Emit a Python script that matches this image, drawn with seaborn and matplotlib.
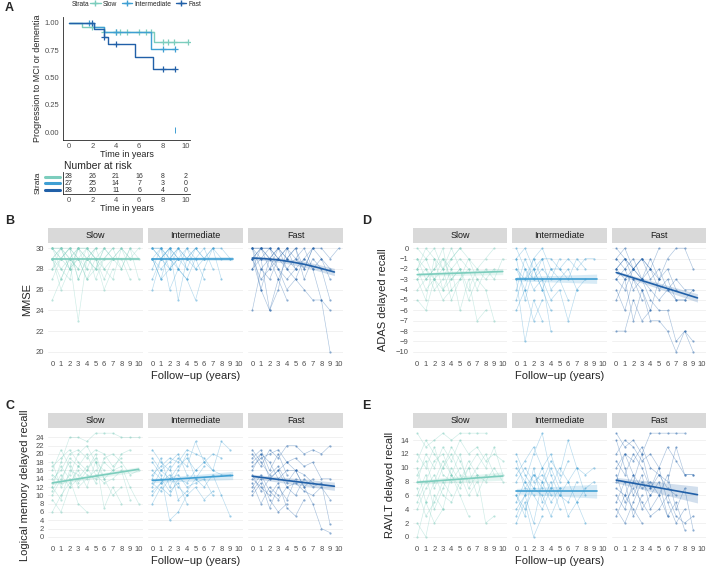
import pandas as pd
import seaborn as sns
import matplotlib.pyplot as plt
from matplotlib.lines import Line2D

sns.set_style("white")
plt.rcParams["font.family"] = ["Liberation Sans", "DejaVu Sans"]

W, H = 709, 569
groups = ["Slow", "Intermediate", "Fast"]
colors = {"Slow": "#7ccdbd", "Intermediate": "#3f9fd3", "Fast": "#2160a8"}

# --- panel A: Kaplan-Meier ---
km_time = {"Slow": [0, 1.1, 3.0, 7.3, 10.2],
           "Intermediate": [0, 2.1, 3.0, 7.0, 9.1],
           "Fast": [0, 2.15, 3.0, 3.3, 5.6, 7.2, 9.1]}
km_surv = {"Slow": [1.0, 0.964, 0.92, 0.83, 0.83],
           "Intermediate": [1.0, 0.96, 0.915, 0.76, 0.76],
           "Fast": [1.0, 0.942, 0.875, 0.81, 0.69, 0.575, 0.575]}
cens_time = {"Slow": [2.0, 3.0, 4.0, 4.4, 5.0, 6.0, 6.6, 7.0, 8.0, 8.5, 9.0, 10.2],
             "Intermediate": [1.7, 4.0, 8.0, 9.1],
             "Fast": [2.0, 3.0, 4.0, 8.0, 9.1]}
cens_surv = {"Slow": [0.964, 0.92, 0.92, 0.92, 0.92, 0.92, 0.92, 0.92, 0.83, 0.83, 0.83, 0.83],
             "Intermediate": [1.0, 0.915, 0.76, 0.76],
             "Fast": [1.0, 0.875, 0.81, 0.575, 0.575]}
odd_mark = (9.1, 0.02)

risk_times = [0, 2, 4, 6, 8, 10]
risk_counts = {"Slow": [28, 26, 21, 16, 8, 2],
               "Intermediate": [27, 25, 14, 7, 3, 0],
               "Fast": [28, 20, 11, 6, 4, 0]}

# --- individual trajectories, "year:value" ---
mmse = {
    "Slow": ["0:30 1:29 2:30 3:29 4:30 5:29 6:30 7:29 8:30 9:29",
             "0:29 1:30 2:28 3:30 4:29 5:30",
             "0:28 1:29 2:30 3:27 4:29 5:28 6:30",
             "0:30 1:28 2:29 3:23 4:29 5:30",
             "0:25 1:27 2:29 3:30 4:28",
             "0:29 1:26 2:28 3:29 4:27 5:29 6:26 7:28",
             "0:30 1:30 2:29 3:28 4:30 5:27 6:29 7:30 8:28 9:30 10:27",
             "0:27 1:29 2:30 3:29 4:28 5:30 6:28 7:27 8:30 9:28",
             "0:29 1:28 2:27 3:30 4:30 5:29 6:27 7:29 8:29 9:27",
             "0:30 1:29 2:28 3:29 4:27 5:28 6:30 7:29 8:28 9:30 10:29",
             "0:28 1:30 2:30 3:27 4:29",
             "0:29 1:27 2:29 3:28",
             "0:30 1:30 2:28 3:30 4:29 5:28 6:29 7:30",
             "0:29 1:30 2:29 3:30 4:30 5:29 6:28 7:29 8:30 9:29 10:30"],
    "Intermediate": ["0:30 1:29 2:30 3:29 4:30 5:28 6:29 7:30 8:29 9:29",
                     "0:29 1:27 2:28 3:30 4:28",
                     "0:26 1:29 2:30 3:25 4:29 5:28",
                     "0:30 1:30 2:26 3:28 4:27 5:25 6:28 7:30 8:27",
                     "0:29 1:28 2:29 3:30 4:29 5:30 6:29",
                     "0:28 1:30 2:29 3:28 4:30 5:29 6:30 7:28",
                     "0:30 1:29 2:28 3:29 4:28 5:30",
                     "0:29 1:27 2:30 3:29",
                     "0:30 1:30 2:29 3:30 4:29 5:30 6:29 7:30 8:30 9:29",
                     "0:27 1:29 2:30 3:28 4:27 5:29 6:27",
                     "0:29 1:30 2:28 3:29"],
    "Fast": ["0:30 1:30 2:29 3:30 4:29 5:30 6:28 7:30 8:29 9:28",
             "0:29 1:30 2:28 3:29 4:28 5:27 6:29 7:28 8:25 9:20",
             "0:24 1:28 2:27 3:29",
             "0:30 1:26 2:24 3:27 4:25",
             "0:29 1:30 2:30 3:28 4:26 5:27 6:26 7:25 8:25 9:24",
             "0:28 1:29 2:24 3:26 4:30 5:28",
             "0:30 1:29 2:30 3:29 4:30 5:29 6:30 7:28 8:29 9:27",
             "0:29 1:27 2:28 3:30 4:28 5:29 6:28 7:30",
             "0:30 1:28 2:29 3:27 4:29 5:30 6:27 7:29 8:28 9:25",
             "0:28 1:30 2:30 3:29 4:30",
             "0:29 1:26 2:29 3:28 4:27 5:28",
             "0:30 1:30 2:29 3:30 4:29 5:28 6:29 7:30 8:30 9:29 10:30"],
}
logmem = {
    "Slow": ["0:12 1:18 2:24 3:24 4:23 5:25 6:25 7:25 8:24 9:24 10:24",
             "0:14 1:16 2:20 3:21 4:19 5:21 6:20 7:17 8:19",
             "0:9 1:6 2:12 3:17 4:15 5:14 6:18 7:16 8:20 9:21",
             "0:16 1:21 2:17 3:12 4:14 5:16",
             "0:10 1:14 2:18 3:13 4:16 5:20 6:14 7:10 8:12",
             "0:18 1:12 2:15 3:20 4:22 5:18 6:16",
             "0:13 1:17 2:14 3:8 4:6",
             "0:6 1:10 2:13 3:16 4:12 5:18 6:14 7:16 8:17 9:12 10:8",
             "0:15 1:13 2:19 3:17 4:20 5:15 6:13 7:14 8:16 9:9",
             "0:11 1:15 2:12 3:14 4:17 5:13 6:19 7:20 8:18 9:15 10:16",
             "0:17 1:19 2:21 3:18 4:16 5:19 6:7 7:12 8:8",
             "0:12 1:9 2:16 3:15"],
    "Intermediate": ["0:21 1:18 2:16 3:19 4:17 5:23 6:18 7:16 8:23 9:21",
                     "0:14 1:19 2:12 3:16 4:20 5:14 6:17",
                     "0:10 1:13 2:17 3:9 4:11 5:14 6:12 7:15 8:10 9:5",
                     "0:16 1:14 2:11 3:13 4:8",
                     "0:12 1:16 2:14 3:17 4:19 5:16 6:18 7:20 8:19",
                     "0:18 1:15 2:4 3:6 4:10",
                     "0:13 1:11 2:14 3:15 4:12 5:13 6:14 7:10",
                     "0:8 1:12 2:10 3:14 4:13 5:16",
                     "0:15 1:17 2:19 3:18 4:21 5:20 6:19 7:16 8:15 9:15",
                     "0:11 1:13 2:15 3:12 4:10 5:12 6:9 7:11",
                     "0:19 1:16 2:18 3:20 4:15"],
    "Fast": ["0:20 1:17 2:21 3:19 4:22 5:22 6:20 7:21 8:20 9:22",
             "0:16 1:20 2:18 3:14 4:16 5:16 6:12 7:8 8:2 9:1",
             "0:14 1:12 2:10 3:13 4:7 5:5 6:9",
             "0:18 1:20 2:14 3:16 4:18 5:16 6:12 7:14",
             "0:12 1:15 2:11 3:9 4:12 5:10 6:14 7:12 8:13 9:3",
             "0:19 1:21 2:16 3:20 4:15",
             "0:10 1:13 2:7 3:12 4:9 5:14",
             "0:15 1:11 2:14 3:16 4:12 5:13 6:11 7:10 8:12 9:9",
             "0:17 1:19 2:20 3:21 4:18 5:19 6:17 7:18 8:14 9:14",
             "0:13 1:8 2:12 3:10",
             "0:21 1:18 2:15 3:17 4:13 5:16 6:15 7:13",
             "0:11 1:14 2:9 3:6 4:8"],
}
adas = {
    "Slow": ["0:0 1:-1 2:0 3:-2 4:-1 5:0 6:-1 7:-2 8:-1 9:0",
             "0:-2 1:-4 2:-3 3:-1 4:-3 5:-2",
             "0:-3 1:-5 2:-1 3:-4 4:-2 5:-6 6:-3 7:-7 8:-6",
             "0:-1 1:-2 2:-4 3:-3 4:-1 5:0",
             "0:-4 1:-3 2:-2 3:0 4:-4 5:-3 6:-2 7:-4 8:-2 9:-3 10:-1",
             "0:-5 1:-6 2:-3 3:-5 4:-4",
             "0:-2 1:0 2:-1 3:-2 4:-5 5:-3 6:-1 7:-3",
             "0:-3 1:-2 2:-3 3:-4 4:-3 5:-2 6:-5 7:-3 8:-4 9:-7",
             "0:-1 1:-3 2:-2 3:-1 4:-2 5:-1 6:-2",
             "0:-2 1:-1 2:-3 3:-2 4:0 5:-2 6:-4 7:-2 8:-3 9:-2"],
    "Intermediate": ["0:-1 1:0 2:-2 3:-1 4:-1 5:-2 6:-1 7:-2 8:-1 9:-1",
                     "0:-3 1:-9 2:-5 3:-7",
                     "0:-5 1:-2 2:-4 3:-3 4:-8",
                     "0:-2 1:-4 2:-1 3:-3 4:-5 5:-4 6:-7 7:-4",
                     "0:-3 1:-3 2:-2 3:-4 4:-2 5:-3 6:-2 7:-4 8:-3",
                     "0:-6 1:-4 2:-7 3:-5",
                     "0:0 1:-2 2:-3 3:-1 4:-4 5:-3 6:-5",
                     "0:-4 1:-1 2:-3 3:-2 4:-3 5:-1",
                     "0:-2 1:-3 2:-1 3:0 4:-2 5:-2 6:-3 7:-1 8:-2",
                     "0:-1 1:-5 2:-2 3:-4 4:-6"],
    "Fast": ["0:0 1:-1 2:-2 3:-1 4:-2 5:-3 6:-1 7:0 8:0 9:-2",
             "0:-2 1:-1 2:-3 3:-4 4:-7 5:-7 6:-8 7:-10 8:-8 9:-10",
             "0:-8 1:-8 2:-5 3:-7 4:-6",
             "0:-3 1:-2 2:-4 3:-3 4:-5 5:-6 6:-6 7:-9 8:-8 9:-9",
             "0:-1 1:-2 2:-1 3:-3 4:-2 5:-4 6:-3 7:-5 8:-5 9:-4",
             "0:-4 1:-6 2:-3 3:-5",
             "0:-2 1:-3 2:-2 3:-1 4:-3 5:-2 6:-4 7:-3 8:-4 9:-4",
             "0:-5 1:-3 2:-7 3:-4 4:-6 5:-3",
             "0:-1 1:0 2:-2 3:-3 4:-1 5:-3 6:-2 7:-4",
             "0:-3 1:-4 2:-2 3:-3 4:-4 5:-5 6:-4 7:-5 8:-5",
             "0:-2 1:-1 2:-2 3:-1 4:-2 5:0"],
}
ravlt = {
    "Slow": ["0:15 1:13 2:14 3:15 4:14 5:15 6:15 7:15 8:15",
             "0:8 1:12 2:10 3:13 4:11 5:14 6:12 7:13 8:11 9:12 10:11",
             "0:2 1:0 2:6 3:4 4:9 5:7 6:10 7:6 8:9",
             "0:10 1:5 2:8 3:11 4:9 5:6 6:3",
             "0:6 1:9 2:4 3:7 4:10 5:8 6:11 7:9 8:2 9:3",
             "0:12 1:10 2:13 3:9 4:8 5:10",
             "0:4 1:7 2:9 3:6 4:5 5:8 6:10 7:12 8:10 9:13 10:9",
             "0:9 1:11 2:7 3:10 4:12 5:9 6:6 7:8",
             "0:7 1:3 2:5 3:8 4:6",
             "0:11 1:14 2:12 3:10 4:13 5:11 6:8 7:10 8:12 9:9",
             "0:0 1:5 2:2 3:4",
             "0:5 1:8 2:11 3:12 4:9 5:12 6:7 7:9 8:8 9:10 10:8"],
    "Intermediate": ["0:10 1:8 2:12 3:15 4:9 5:6 6:8 7:10 8:9 9:10",
                     "0:6 1:3 2:10 3:5 4:8 5:4",
                     "0:12 1:9 2:7 3:10 4:12 5:8 6:11",
                     "0:4 1:6 2:2 3:8 4:5 5:7 6:3 7:5 8:2",
                     "0:8 1:10 2:8 3:9 4:7 5:10 6:8 7:5 8:7 9:8",
                     "0:2 1:5 2:0 3:3",
                     "0:9 1:11 2:13 3:10 4:6",
                     "0:6 1:4 2:7 3:6 4:3 5:6 6:5 7:8",
                     "0:11 1:7 2:9 3:8 4:11 5:9 6:14 7:10 8:6",
                     "0:5 1:8 2:6 3:4 4:7",
                     "0:3 1:6 2:9 3:7 4:10 5:7"],
    "Fast": ["0:15 1:13 2:14 3:12 4:15 5:15 6:15 7:15 8:15",
             "0:8 1:12 2:11 3:13 4:10 5:9 6:8 7:13 8:9 9:9",
             "0:14 1:10 2:6 3:9 4:4 5:6 6:3 7:5 8:1",
             "0:6 1:4 2:8 3:12 4:7 5:10 6:5 7:2 8:4",
             "0:10 1:12 2:9 3:7 4:8 5:6 6:9 7:4 8:7 9:1",
             "0:5 1:8 2:3 3:6",
             "0:12 1:14 2:13 3:11 4:12 5:10 6:13 7:11 8:9 9:9",
             "0:7 1:6 2:9 3:4 4:6 5:8 6:3",
             "0:9 1:5 2:7 3:5 4:3 5:4 6:6 7:3 8:2 9:3",
             "0:4 1:2 2:5 3:8 4:6",
             "0:11 1:9 2:12 3:10 4:7 5:9 6:7 7:6",
             "0:3 1:6 2:4 3:2"],
}

# --- fitted trends ---
fit_x = {"Slow": [0, 10], "Intermediate": [0, 9.3], "Fast": [0, 9.5]}
mmse_fit = {"Slow": [29.0, 29.0], "Intermediate": [29.0, 29.0], "Fast": [29.05, 27.7]}
logmem_fit = {"Slow": [13.0, 16.3], "Intermediate": [13.6, 14.8], "Fast": [14.6, 12.2]}
adas_fit = {"Slow": [-2.55, -2.25], "Intermediate": [-2.95, -2.95], "Fast": [-2.35, -4.8]}
ravlt_fit = {"Slow": [7.9, 8.8], "Intermediate": [6.6, 6.6], "Fast": [8.2, 6.1]}
mmse_fast_curve_x = [0, 1.5, 3, 4.5, 6, 7.5, 9.5]
mmse_fast_curve_y = [29.05, 28.98, 28.87, 28.68, 28.45, 28.15, 27.7]
# CI half width at start / end
mmse_ci = {"Slow": [0.1, 0.15], "Intermediate": [0.1, 0.2], "Fast": [0.15, 0.35]}
logmem_ci = {"Slow": [0.4, 0.6], "Intermediate": [0.5, 1.0], "Fast": [0.5, 1.0]}
adas_ci = {"Slow": [0.15, 0.3], "Intermediate": [0.2, 0.45], "Fast": [0.15, 0.4]}
ravlt_ci = {"Slow": [0.3, 0.6], "Intermediate": [0.4, 1.0], "Fast": [0.4, 1.2]}


def to_frame(traj):
    rows = []
    for g in groups:
        for i, s in enumerate(traj[g]):
            for p in s.split():
                yr, v = p.split(":")
                rows.append({"group": g, "subject": i, "year": float(yr), "value": float(v)})
    return pd.DataFrame(rows)


def add_ax(x0, y0, x1, y1):
    return fig.add_axes([x0 / W, 1 - y1 / H, (x1 - x0) / W, (y1 - y0) / H])


fig = plt.figure(figsize=(W / 100, H / 100), dpi=100)
tick_col = "#4d4d4d"

# ---------------- Panel A ----------------
ax = add_ax(63, 17, 190, 140)
for g in groups:
    sns.lineplot(x=km_time[g], y=km_surv[g], drawstyle="steps-post", estimator=None,
                 color=colors[g], lw=1.0, ax=ax)
    sns.scatterplot(x=cens_time[g], y=cens_surv[g], marker="+", s=18, color=colors[g],
                    linewidth=0.9, ax=ax)
sns.scatterplot(x=[odd_mark[0]], y=[odd_mark[1]], marker="|", s=14, color=colors["Intermediate"],
                linewidth=0.7, ax=ax)
ax.set_xlim(-0.51, 10.34)
ax.set_ylim(-0.073, 1.055)
ax.set_xticks(range(0, 11, 2))
ax.set_yticks([0, 0.25, 0.5, 0.75, 1.0])
ax.set_yticklabels(["0.00", "0.25", "0.50", "0.75", "1.00"])
for s in ["top", "right"]:
    ax.spines[s].set_visible(False)
for s in ["left", "bottom"]:
    ax.spines[s].set_linewidth(0.6)
ax.tick_params(labelsize=5.5, length=1.5, width=0.5, pad=1, colors="#333333", labelcolor=tick_col)
ax.set_xlabel("Time in years", fontsize=6.5, labelpad=0)
ax.set_ylabel("Progression to MCI or dementia", fontsize=6.5, labelpad=2)

handles = [Line2D([0], [0], color=colors[g], marker="+", lw=1, markersize=4) for g in groups]
fig.legend(handles, groups, loc="center left", bbox_to_anchor=(90 / W, 1 - 4 / H), ncol=3,
           frameon=False, fontsize=4.8, handlelength=1.6, columnspacing=0.7, handletextpad=0.3,
           borderaxespad=0, borderpad=0)
fig.text(72 / W, 1 - 4 / H, "Strata", fontsize=4.8, va="center")

# risk table
ax = add_ax(63, 172, 190, 194)
for i, g in enumerate(groups):
    for t, n in zip(risk_times, risk_counts[g]):
        ax.text(t, i, str(n), fontsize=5, ha="center", va="center", color="#333333")
    ax.plot([-0.14, -0.025], [i, i], color=colors[g], lw=2.2, clip_on=False,
            transform=ax.get_yaxis_transform())
ax.set_xlim(-0.51, 10.34)
ax.set_ylim(2.6, -0.7)
ax.set_xticks(range(0, 11, 2))
ax.set_yticks([])
for s in ["top", "right"]:
    ax.spines[s].set_visible(False)
for s in ["left", "bottom"]:
    ax.spines[s].set_linewidth(0.6)
ax.tick_params(axis="x", labelsize=5.5, length=1.5, width=0.5, pad=1, colors="#333333", labelcolor=tick_col)
ax.set_xlabel("Time in years", fontsize=6.5, labelpad=0)
fig.text(64 / W, 1 - 166 / H, "Number at risk", fontsize=7.5, va="center")
fig.text(38 / W, 1 - 183 / H, "Strata", fontsize=6, va="center", ha="center", rotation=90)

# ---------------- Panels B-E ----------------
left_cols = [(48, 143), (148, 243), (248, 343)]
right_cols = [(413, 507), (512, 607), (612, 706)]

panels = [
    ("B", mmse, mmse_fit, mmse_ci, "MMSE", left_cols, (243, 357), (19.5, 30.5), range(20, 31, 2), 27),
    ("C", logmem, logmem_fit, logmem_ci, "Logical memory delayed recall", left_cols, (428, 542),
     (-1.25, 26.25), range(0, 25, 2), 25),
    ("D", adas, adas_fit, adas_ci, "ADAS delayed recall", right_cols, (243, 357), (-10.5, 0.5),
     range(-10, 1), 383),
    ("E", ravlt, ravlt_fit, ravlt_ci, "RAVLT delayed recall", right_cols, (428, 542), (-0.75, 15.75),
     range(0, 15, 2), 390),
]

for letter, traj, fit, ci, ylab, cols, (py0, py1), ylim, yt, ylab_x in panels:
    df = to_frame(traj)
    for k, g in enumerate(groups):
        x0, x1 = cols[k]
        # strip
        sax = add_ax(x0, py0 - 15, x1, py0)
        sax.set_facecolor("#d9d9d9")
        sax.set_xticks([])
        sax.set_yticks([])
        for s in sax.spines.values():
            s.set_visible(False)
        sax.text(0.5, 0.5, g, ha="center", va="center", fontsize=6.5, color="#1a1a1a",
                 transform=sax.transAxes)

        ax = add_ax(x0, py0, x1, py1)
        sub = df[df.group == g]
        sns.lineplot(data=sub, x="year", y="value", units="subject", estimator=None,
                     color=colors[g], lw=0.45, alpha=0.38, ax=ax, legend=False)
        sns.scatterplot(data=sub, x="year", y="value", color=colors[g], s=2.5, alpha=0.5,
                        linewidth=0, ax=ax, legend=False)
        if letter == "B" and g == "Fast":
            fx, fy = mmse_fast_curve_x, mmse_fast_curve_y
        else:
            fx, fy = fit_x[g], fit[g]
        lo_w, hi_w = ci[g]
        n = len(fx)
        widths = [lo_w + (hi_w - lo_w) * j / (n - 1) for j in range(n)]
        ax.fill_between(fx, [y - w for y, w in zip(fy, widths)], [y + w for y, w in zip(fy, widths)],
                        color=colors[g], alpha=0.2, lw=0)
        sns.lineplot(x=fx, y=fy, color=colors[g], lw=1.2, ax=ax, estimator=None)

        ax.set_xlim(-0.5, 10.5)
        ax.set_ylim(*ylim)
        ax.set_xticks(range(0, 11))
        ax.set_yticks(list(yt))
        ax.set_yticklabels([str(v).replace("-", "\u2212") for v in yt])
        ax.grid(axis="y", color="#ebebeb", lw=0.5)
        ax.grid(axis="x", visible=False)
        for s in ax.spines.values():
            s.set_visible(False)
        ax.tick_params(labelsize=5.5, length=1.8, width=0.6, pad=1.2, colors="#333333",
                       labelcolor=tick_col)
        if k > 0:
            ax.tick_params(axis="y", left=False, labelleft=False)
        ax.set_xlabel("")
        ax.set_ylabel("")

    fig.text(ylab_x / W, 1 - (py0 + py1) / 2 / H, ylab, rotation=90, fontsize=8,
             ha="center", va="center")
    mid = (cols[1][0] + cols[1][1]) / 2
    fig.text(mid / W, 1 - (py1 + 19) / H, "Follow\u2212up (years)", fontsize=8, ha="center", va="center")
    lx = 5 if cols is left_cols else 362
    fig.text(lx / W, 1 - (py0 - 22) / H, letter, fontsize=9, fontweight="bold", va="center")

fig.text(5 / W, 1 - 8 / H, "A", fontsize=9, fontweight="bold", va="center")

fig.savefig("out.png", dpi=100)
